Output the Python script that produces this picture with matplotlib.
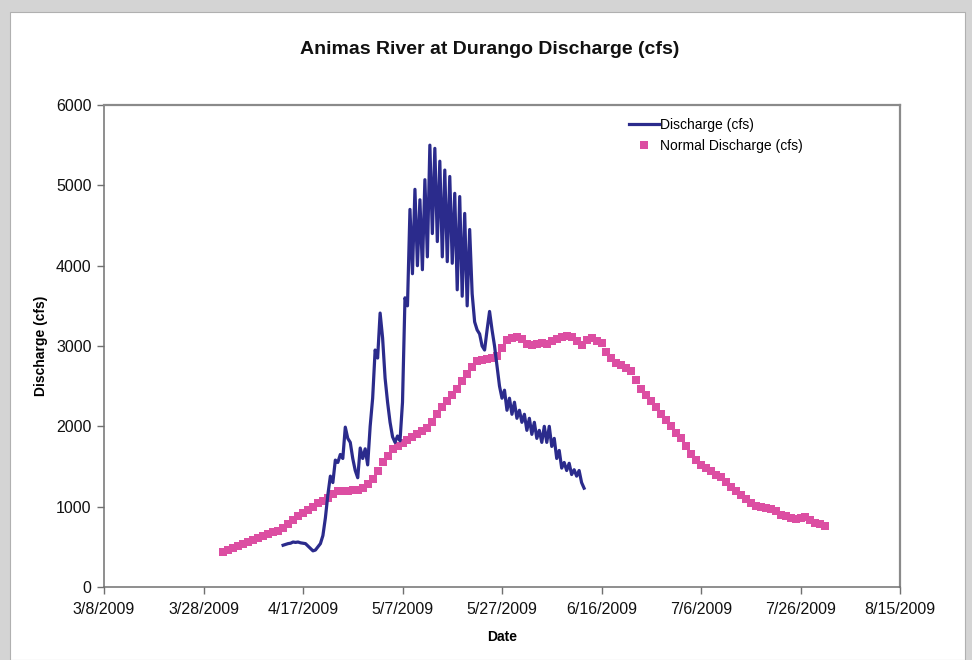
import matplotlib
matplotlib.use("Agg")
import matplotlib.pyplot as plt
import matplotlib.patches as mpatches
import pandas as pd

plt.rcParams['font.family'] = ['Liberation Sans', 'DejaVu Sans']

# ---------------- data ----------------
title = "Animas River at Durango Discharge (cfs)"
x_label = "Date"
y_label = "Discharge (cfs)"
series_names = ["Discharge (cfs)", "Normal Discharge (cfs)"]

# Discharge, twice-daily readings starting 4/13/2009
discharge_start = "2009-04-13"
discharge = [
    520, 530, 540, 545, 560, 555, 560, 550, 545, 540, 510, 480, 450, 460, 500, 540,   # 4/13 - 4/20
    640, 860, 1150, 1380, 1300, 1580, 1550, 1650, 1600, 1990, 1850, 1800,             # 4/21 - 4/26
    1600, 1450, 1360, 1730, 1600, 1720, 1520, 2000, 2350, 2950, 2850, 3410,           # 4/27 - 5/2
    3100, 2600, 2300, 2050, 1870, 1800, 1880, 1820, 2300, 3600, 3500, 4700,           # 5/3 - 5/8
    3900, 4950, 4000, 4820, 3950, 5070, 4110, 5500, 4400, 5460, 4300, 5300,           # 5/9 - 5/14
    4110, 5190, 4050, 5110, 4030, 4900, 3700, 4860, 3620, 4650, 3500, 4450,           # 5/15 - 5/20
    3650, 3300, 3200, 3150, 3000, 2950, 3200, 3430, 3200, 3000, 2750, 2500,           # 5/21 - 5/26
    2350, 2450, 2200, 2350, 2150, 2300, 2100, 2200, 2050, 2150, 1950, 2100,           # 5/27 - 6/1
    1900, 2050, 1850, 1950, 1800, 2000, 1800, 2000, 1750, 1850, 1600, 1700,           # 6/2 - 6/7
    1480, 1550, 1450, 1540, 1400, 1460, 1380, 1450, 1300, 1230,                       # 6/8 - 6/12
]

# Normal discharge, daily from 4/1/2009 to 7/31/2009
normal_start = "2009-04-01"
normal = [
    432, 455, 480, 505, 530, 555, 580, 605, 630, 655,            # 4/1 - 4/10
    680, 700, 740, 790, 840, 880, 920, 960, 1000, 1040,          # 4/11 - 4/20
    1075, 1110, 1160, 1190, 1195, 1200, 1205, 1210, 1230, 1280,  # 4/21 - 4/30
    1350, 1450, 1550, 1630, 1720, 1760, 1790, 1830, 1870, 1910,  # 5/1 - 5/10
    1940, 1980, 2060, 2150, 2240, 2320, 2390, 2460, 2560, 2650,  # 5/11 - 5/20
    2740, 2810, 2830, 2840, 2850, 2870, 2980, 3080, 3100, 3110,  # 5/21 - 5/30
    3090, 3030, 3010, 3030, 3040, 3030, 3060, 3090, 3110, 3120,  # 5/31 - 6/9
    3115, 3060, 3010, 3080, 3100, 3060, 3040, 2920, 2850, 2790,  # 6/10 - 6/19
    2760, 2720, 2690, 2580, 2470, 2390, 2310, 2240, 2150, 2080,  # 6/20 - 6/29
    2010, 1920, 1850, 1760, 1660, 1580, 1520, 1480, 1440, 1400,  # 6/30 - 7/9
    1370, 1310, 1240, 1190, 1140, 1090, 1040, 1010, 990, 985,    # 7/10 - 7/19
    975, 940, 900, 880, 860, 850, 860, 870, 840, 800,            # 7/20 - 7/29
    780, 760,                                                    # 7/30 - 7/31
]

x_tick_labels = ["3/8/2009", "3/28/2009", "4/17/2009", "5/7/2009", "5/27/2009",
                 "6/16/2009", "7/6/2009", "7/26/2009", "8/15/2009"]
y_ticks = [0, 1000, 2000, 3000, 4000, 5000, 6000]

# ---------------- figure ----------------
W, H = 972, 660
fig = plt.figure(figsize=(W / 100, H / 100), dpi=100)
fig.patch.set_facecolor('#d4d4d4')
# white "page"
fig.add_artist(mpatches.Rectangle((10 / W, 0), (965 - 10) / W, (H - 12) / H,
                                  transform=fig.transFigure, facecolor='white',
                                  edgecolor='#b0b0b0', linewidth=0.8, zorder=0))

ax = fig.add_axes([104 / W, 1 - 587 / H, (900 - 104) / W, (587 - 105) / H])
ax.set_facecolor('white')

d_dates = pd.date_range(discharge_start, periods=len(discharge), freq='12h')
n_dates = pd.date_range(normal_start, periods=len(normal), freq='D')

ax.plot(d_dates, discharge, color='#2b2b8c', linewidth=2.3, label=series_names[0],
        zorder=3, solid_joinstyle='round')
ax.plot(n_dates, normal, linestyle='none', marker='s', markersize=5.6,
        color='#dc4ea2', markeredgewidth=0, label=series_names[1], zorder=2)

tick_dates = pd.to_datetime(x_tick_labels, format="%m/%d/%Y")
ax.set_xlim(tick_dates[0], tick_dates[-1])
ax.set_ylim(0, 6000)
ax.set_xticks(tick_dates)
ax.set_xticklabels(x_tick_labels)
ax.set_yticks(y_ticks)
ax.set_yticklabels([str(v) for v in y_ticks])

ax.tick_params(axis='both', labelsize=11.5, length=5,
               width=1, direction='out', pad=4)
ax.tick_params(axis='x', pad=6)
for s in ['left', 'bottom']:
    ax.spines[s].set_color('#707070')
    ax.spines[s].set_linewidth(1.1)
for s in ['top', 'right']:
    ax.spines[s].set_color('#8a8a8a')
    ax.spines[s].set_linewidth(1.6)
ax.tick_params(colors='#707070', labelcolor='#111111')

ax.set_xlabel(x_label, fontsize=10, fontweight='bold', labelpad=9)
ax.set_ylabel(y_label, fontsize=10, fontweight='bold', labelpad=6)

fig.text(490 / W, 1 - 50 / H, title, ha='center', va='center',
         fontsize=14, fontweight='bold', color='#111111')

leg = ax.legend(loc='upper left', bbox_to_anchor=(0.652, 0.985), frameon=False,
                fontsize=10, handlelength=2.2, handletextpad=0.1, labelspacing=0.5,
                borderaxespad=0)

fig.savefig("out.png", dpi=100, facecolor=fig.get_facecolor())
